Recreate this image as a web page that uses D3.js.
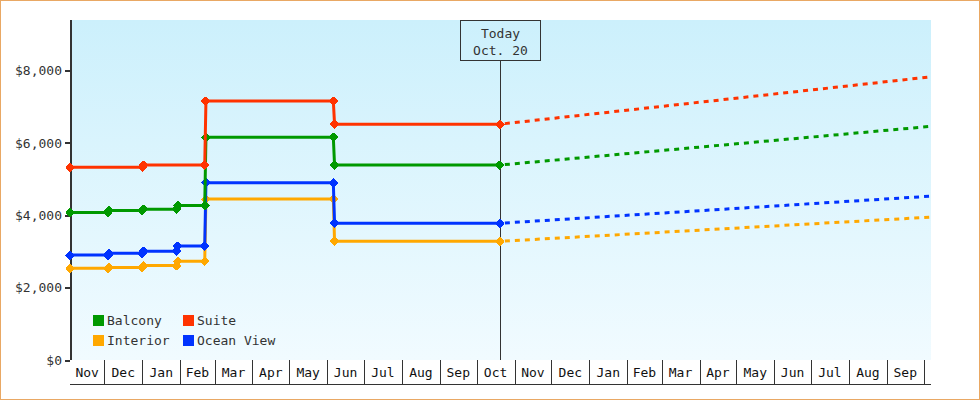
<!DOCTYPE html>
<html>
<head>
<meta charset="utf-8">
<script src="https://cdn.jsdelivr.net/npm/d3@7"></script>
<style>
  html, body { margin: 0; padding: 0; background: #fff; }
  svg { display: block; font-family: "DejaVu Sans Mono", monospace; }
  .crisp { shape-rendering: crispEdges; }
</style>
</head>
<body>
<svg id="chart" width="980" height="400"></svg>
<script>
// Cabin categories, in legend order
const seriesNames = ["Balcony", "Interior", "Suite", "Ocean View"];

// Observed fares: [date, price] — each change shows the last day of the old fare and the first day of the new one
const balconyFares = [
  ["2013-11-03", 4080], ["2013-12-04", 4080], ["2013-12-05", 4130],
  ["2014-01-01", 4130], ["2014-01-02", 4170], ["2014-01-29", 4170],
  ["2014-01-30", 4270], ["2014-02-21", 4270], ["2014-02-22", 6160],
  ["2014-06-06", 6160], ["2014-06-07", 5390], ["2014-10-20", 5390]
];
const interiorFares = [
  ["2013-11-03", 2540], ["2013-12-04", 2540], ["2013-12-05", 2560],
  ["2014-01-01", 2560], ["2014-01-02", 2610], ["2014-01-29", 2610],
  ["2014-01-30", 2730], ["2014-02-21", 2730], ["2014-02-22", 4450],
  ["2014-06-06", 4450], ["2014-06-07", 3280], ["2014-10-20", 3280]
];
const suiteFares = [
  ["2013-11-03", 5330], ["2014-01-01", 5330], ["2014-01-02", 5390],
  ["2014-02-21", 5390], ["2014-02-22", 7160], ["2014-06-06", 7160],
  ["2014-06-07", 6520], ["2014-10-20", 6520]
];
const oceanViewFares = [
  ["2013-11-03", 2900], ["2013-12-04", 2900], ["2013-12-05", 2950],
  ["2014-01-01", 2950], ["2014-01-02", 3010], ["2014-01-29", 3010],
  ["2014-01-30", 3150], ["2014-02-21", 3150], ["2014-02-22", 4900],
  ["2014-06-06", 4900], ["2014-06-07", 3780], ["2014-10-20", 3780]
];

// Projected fares at the end of the forecast window (same order as seriesNames)
const forecastFares = [6460, 3950, 7830, 4530];
const todayDate = "2014-10-20";
const forecastEndDate = "2015-10-07";

// Value axis
const yTicks = [0, 2000, 4000, 6000, 8000];
const yMax = 9400;

const faresByName = {
  "Balcony": balconyFares,
  "Interior": interiorFares,
  "Suite": suiteFares,
  "Ocean View": oceanViewFares
};
const colors = {
  "Balcony": "#009900",
  "Interior": "#ffa800",
  "Suite": "#ff3300",
  "Ocean View": "#0033ff"
};
// Paint order of the lines (later ones sit on top)
const drawOrder = ["Interior", "Ocean View", "Balcony", "Suite"];

const W = 980, H = 400;
const plot = { left: 70, right: 931, top: 20, bottom: 360 };
const ink = "#333";

const parse = d3.timeParse("%Y-%m-%d");
const startDate = parse(balconyFares[0][0]);
const endDate = parse(forecastEndDate);
const today = parse(todayDate);

const x = d3.scaleTime().domain([startDate, endDate]).range([plot.left, plot.right]);
const y = d3.scaleLinear().domain([0, yMax]).range([plot.bottom, plot.top]);

const svg = d3.select("#chart");

// Plot background gradient
const defs = svg.append("defs");
const grad = defs.append("linearGradient")
  .attr("id", "bg").attr("x1", 0).attr("y1", 0).attr("x2", 0).attr("y2", 1);
grad.append("stop").attr("offset", "0%").attr("stop-color", "#ccf0fc");
grad.append("stop").attr("offset", "100%").attr("stop-color", "#f1fbff");

svg.append("rect").attr("class", "crisp")
  .attr("x", plot.left).attr("y", plot.top)
  .attr("width", plot.right - plot.left).attr("height", plot.bottom - plot.top)
  .attr("fill", "url(#bg)");

// Value axis
const yAxis = svg.append("g")
  .attr("transform", `translate(${plot.left},0)`)
  .call(d3.axisLeft(y).tickValues(yTicks).tickFormat(d3.format("$,"))
    .tickSize(5).tickPadding(3));
yAxis.select(".domain").remove();
yAxis.selectAll(".tick line").attr("stroke", ink).attr("stroke-width", 2).attr("class", "crisp");
yAxis.selectAll(".tick text").attr("fill", ink)
  .style("font-family", "'DejaVu Sans Mono', monospace").style("font-size", "13px");
svg.append("line").attr("class", "crisp")
  .attr("x1", plot.left + 1).attr("x2", plot.left + 1)
  .attr("y1", plot.top).attr("y2", plot.bottom)
  .attr("stroke", ink).attr("stroke-width", 2);

// Month band under the plot: separators at month starts
const bandH = 25;
const xAxis = svg.append("g")
  .attr("transform", `translate(0,${plot.bottom})`)
  .call(d3.axisBottom(x).ticks(d3.timeMonth.every(1)).tickFormat("")
    .tickSizeInner(bandH).tickSizeOuter(0));
xAxis.select(".domain").remove();
xAxis.selectAll(".tick line").attr("stroke", ink).attr("class", "crisp");
xAxis.selectAll(".tick").filter(d => +d <= +startDate).remove();

svg.append("line").attr("class", "crisp")
  .attr("x1", plot.left).attr("x2", plot.right)
  .attr("y1", plot.bottom + bandH - 0.5).attr("y2", plot.bottom + bandH - 0.5)
  .attr("stroke", ink);

const months = d3.timeMonth.range(d3.timeMonth.floor(startDate), endDate);
const monthFmt = d3.timeFormat("%b");
svg.append("g").selectAll("text")
  .data(months.map(m => {
    const a = Math.max(+m, +startDate);
    const b = Math.min(+d3.timeMonth.offset(m, 1), +endDate);
    return { m, x0: x(a), x1: x(b) };
  }).filter(c => c.x1 - c.x0 > 20))
  .join("text")
  .attr("x", c => (c.x0 + c.x1) / 2)
  .attr("y", plot.bottom + 17)
  .attr("text-anchor", "middle")
  .attr("fill", "#111")
  .style("font-size", "13px")
  .text(c => monthFmt(c.m));

// "Today" marker
const tx = Math.round(x(today)) + 0.5;
svg.append("line").attr("class", "crisp")
  .attr("x1", tx).attr("x2", tx).attr("y1", 60).attr("y2", plot.bottom)
  .attr("stroke", ink);
svg.append("rect").attr("class", "crisp")
  .attr("x", tx - 40).attr("y", plot.top + 0.5).attr("width", 80).attr("height", 40)
  .attr("fill", "none").attr("stroke", ink);
svg.append("text").attr("x", tx).attr("y", 38).attr("text-anchor", "middle")
  .attr("fill", ink).style("font-size", "13px").text("Today");
svg.append("text").attr("x", tx).attr("y", 55).attr("text-anchor", "middle")
  .attr("fill", ink).style("font-size", "13px").text(d3.timeFormat("%b. %d")(today));

// Fare lines, forecasts and point markers
const line = d3.line().x(d => x(d.date)).y(d => y(d.price));
const diamond = d3.symbol(d3.symbolSquare, 40);

drawOrder.forEach(name => {
  const i = seriesNames.indexOf(name);
  const pts = faresByName[name].map(([d, p]) => ({ date: parse(d), price: p }));
  const last = pts[pts.length - 1];
  const g = svg.append("g");

  g.append("path")
    .datum([last, { date: endDate, price: forecastFares[i] }])
    .attr("d", line)
    .attr("fill", "none").attr("stroke", colors[name])
    .attr("stroke-width", 3).attr("stroke-dasharray", "5,5")
    .attr("stroke-dashoffset", -5);

  g.append("path")
    .datum(pts)
    .attr("d", line)
    .attr("fill", "none").attr("stroke", colors[name])
    .attr("stroke-width", 3).attr("stroke-linejoin", "miter");

  g.selectAll(".pt").data(pts).join("path")
    .attr("class", "pt crisp")
    .attr("d", diamond)
    .attr("transform", d => `translate(${x(d.date)},${y(d.price)}) rotate(45)`)
    .attr("fill", colors[name])
    .attr("stroke", colors[name]).attr("stroke-width", 1);
});

// Legend: two columns, two rows
const legend = svg.append("g");
seriesNames.forEach((name, i) => {
  const col = Math.floor(i / 2), row = i % 2;
  const lx = 93 + col * 90, ly = 315 + row * 20;
  legend.append("rect").attr("class", "crisp")
    .attr("x", lx).attr("y", ly).attr("width", 11).attr("height", 11)
    .attr("fill", colors[name]);
  legend.append("text")
    .attr("x", lx + 14).attr("y", ly + 10)
    .attr("fill", ink).style("font-size", "13px")
    .text(name);
});

// Outer frame
svg.append("rect").attr("class", "crisp")
  .attr("x", 0.5).attr("y", 0.5).attr("width", W - 1).attr("height", H - 1)
  .attr("fill", "none").attr("stroke", "#e9a864");
</script>
</body>
</html>
